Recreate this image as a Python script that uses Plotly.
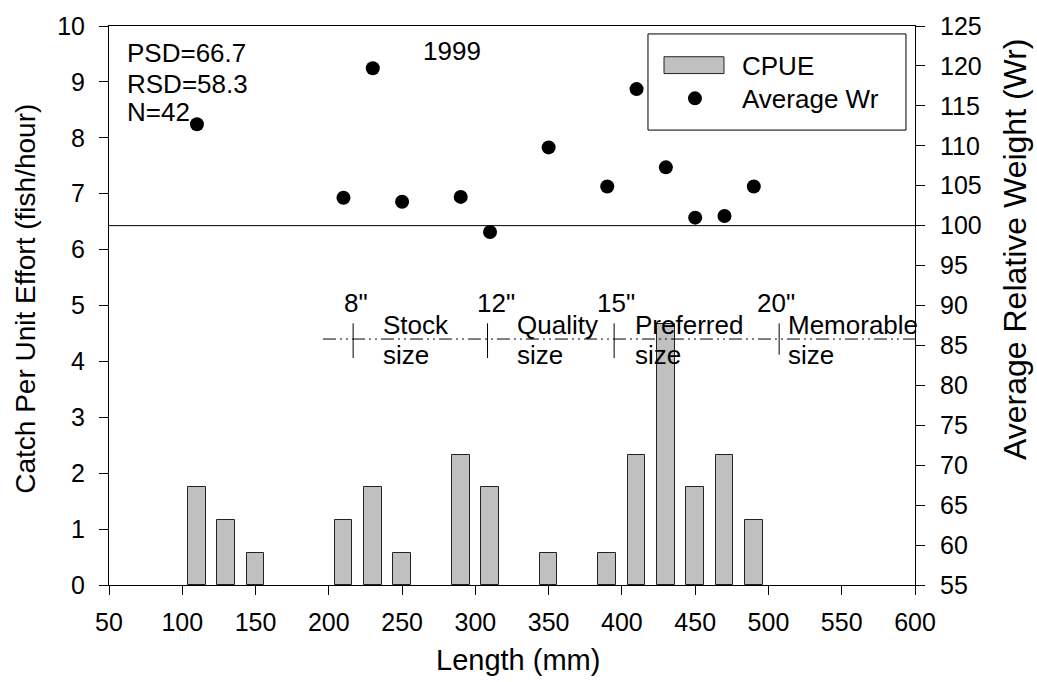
import plotly.graph_objects as go

# ---- data ----
length_mm = [110, 130, 150, 210, 230, 250, 290, 310, 350, 390, 410, 430, 450, 470, 490]
cpue = [1.75, 1.17, 0.58, 1.17, 1.75, 0.58, 2.33, 1.75, 0.58, 0.58, 2.33, 4.67, 1.75, 2.33, 1.17]

wr_length = [110, 210, 230, 250, 290, 310, 350, 390, 410, 430, 450, 470, 490]
avg_wr = [112.7, 103.5, 119.7, 103.0, 103.6, 99.2, 109.8, 104.9, 117.1, 107.3, 101.0, 101.2, 104.9]

size_marks = [216.6, 308.3, 394.7, 507.3]
inch_labels = ['8"', '12"', '15"', '20"']
inch_label_x = [218.4, 313.9, 396.2, 505.1]
class_names = ["Stock", "Quality", "Preferred", "Memorable"]
class_x = [235.5, 326.9, 407.4, 511.9]

stats_text = ["PSD=66.7", "RSD=58.3", "N=42"]
year_text = "1999"

FONT = "Arial, Liberation Sans, sans-serif"
FS = 26
TICK_FS = 25

fig = go.Figure()
fig.add_trace(go.Bar(
    x=length_mm, y=cpue, width=12,
    marker=dict(color="#c0c0c0", line=dict(color="#222222", width=1)),
    name="CPUE", showlegend=False,
))
fig.add_trace(go.Scatter(
    x=wr_length, y=avg_wr, yaxis="y2", mode="markers",
    marker=dict(color="black", size=14),
    name="Average Wr", showlegend=False,
))

shapes = []
# reference line at Wr = 100
shapes.append(dict(type="line", xref="paper", x0=0, x1=1, yref="y2", y0=100, y1=100,
                   line=dict(color="black", width=1)))
# dash-dot-dot size-class line
shapes.append(dict(type="line", xref="x", x0=196, x1=600, yref="y", y0=4.40, y1=4.40,
                   line=dict(color="black", width=1, dash="13px,4px,2px,4px,2px,4px")))
for i, xm in enumerate(size_marks):
    top = 4.68
    bot = 4.12 if i == 3 else 4.06
    shapes.append(dict(type="line", xref="x", x0=xm, x1=xm, yref="y", y0=bot, y1=top,
                       line=dict(color="black", width=1)))

# manual legend
shapes.append(dict(type="rect", xref="paper", yref="paper", x0=0.6687, x1=0.9888, y0=0.8138, y1=0.9858,
                   line=dict(color="black", width=1), fillcolor="white", layer="above"))
shapes.append(dict(type="rect", xref="paper", yref="paper", x0=0.6886, x1=0.7630, y0=0.9149, y1=0.9450,
                   line=dict(color="#222222", width=1), fillcolor="#c0c0c0", layer="above"))
shapes.append(dict(type="circle", xref="paper", yref="paper", xsizemode="pixel", ysizemode="pixel",
                   xanchor=0.7270, yanchor=0.8706, x0=-7, x1=7, y0=-7, y1=7,
                   line=dict(color="black", width=0), fillcolor="black", layer="above"))

ann = []
def txt(x, y, s, xref="x", yref="y", xanchor="center", yanchor="middle", size=FS, angle=0):
    ann.append(dict(x=x, y=y, xref=xref, yref=yref, text=s, showarrow=False, textangle=angle,
                    xanchor=xanchor, yanchor=yanchor, font=dict(family=FONT, size=size, color="black")))

for lx, lab in zip(inch_label_x, inch_labels):
    txt(lx, 5.04, lab)
for cx, nm in zip(class_x, class_names):
    txt(cx, 4.645, nm, xanchor="left")
    txt(cx, 4.113, "size", xanchor="left")

stat_y = [0.952, 0.897, 0.846]
for sy, s in zip(stat_y, stats_text):
    txt(0.0199, sy, s, xref="paper", yref="paper", xanchor="left")
txt(0.4256, 0.9557, year_text, xref="paper", yref="paper")
txt(0.7829, 0.928, "CPUE", xref="paper", yref="paper", xanchor="left")
txt(0.7829, 0.8688, "Average Wr", xref="paper", yref="paper", xanchor="left")

# axis titles
txt(0.507, -0.135, "Length (mm)", xref="paper", yref="paper", size=29)
txt(-0.1030, 0.512, "Catch Per Unit Effort (fish/hour)", xref="paper", yref="paper", size=28, angle=-90)
txt(1.1240, 0.601, "Average Relative Weight (Wr)", xref="paper", yref="paper", size=32, angle=-90)

axis_common = dict(showline=True, linecolor="black", linewidth=1, ticks="outside", ticklen=9,
                   tickcolor="black", tickwidth=1, showgrid=False, zeroline=False,
                   tickfont=dict(family=FONT, size=TICK_FS, color="black"))

fig.update_layout(
    width=1037, height=682,
    margin=dict(l=109, r=122, t=21, b=97),
    plot_bgcolor="white", paper_bgcolor="white",
    font=dict(family=FONT, size=FS, color="black"),
    xaxis=dict(range=[50, 600], tickmode="linear", tick0=50, dtick=50, mirror=True,
               ticklabelstandoff=6, **axis_common),
    yaxis=dict(range=[0, 10], tickmode="linear", tick0=0, dtick=1, ticklabelstandoff=9, **axis_common),
    yaxis2=dict(range=[55, 125], tickmode="linear", tick0=55, dtick=5, overlaying="y", side="right",
                ticklabelstandoff=10, **axis_common),
    shapes=shapes, annotations=ann, showlegend=False, bargap=0,
)

fig.write_html("out.html")
